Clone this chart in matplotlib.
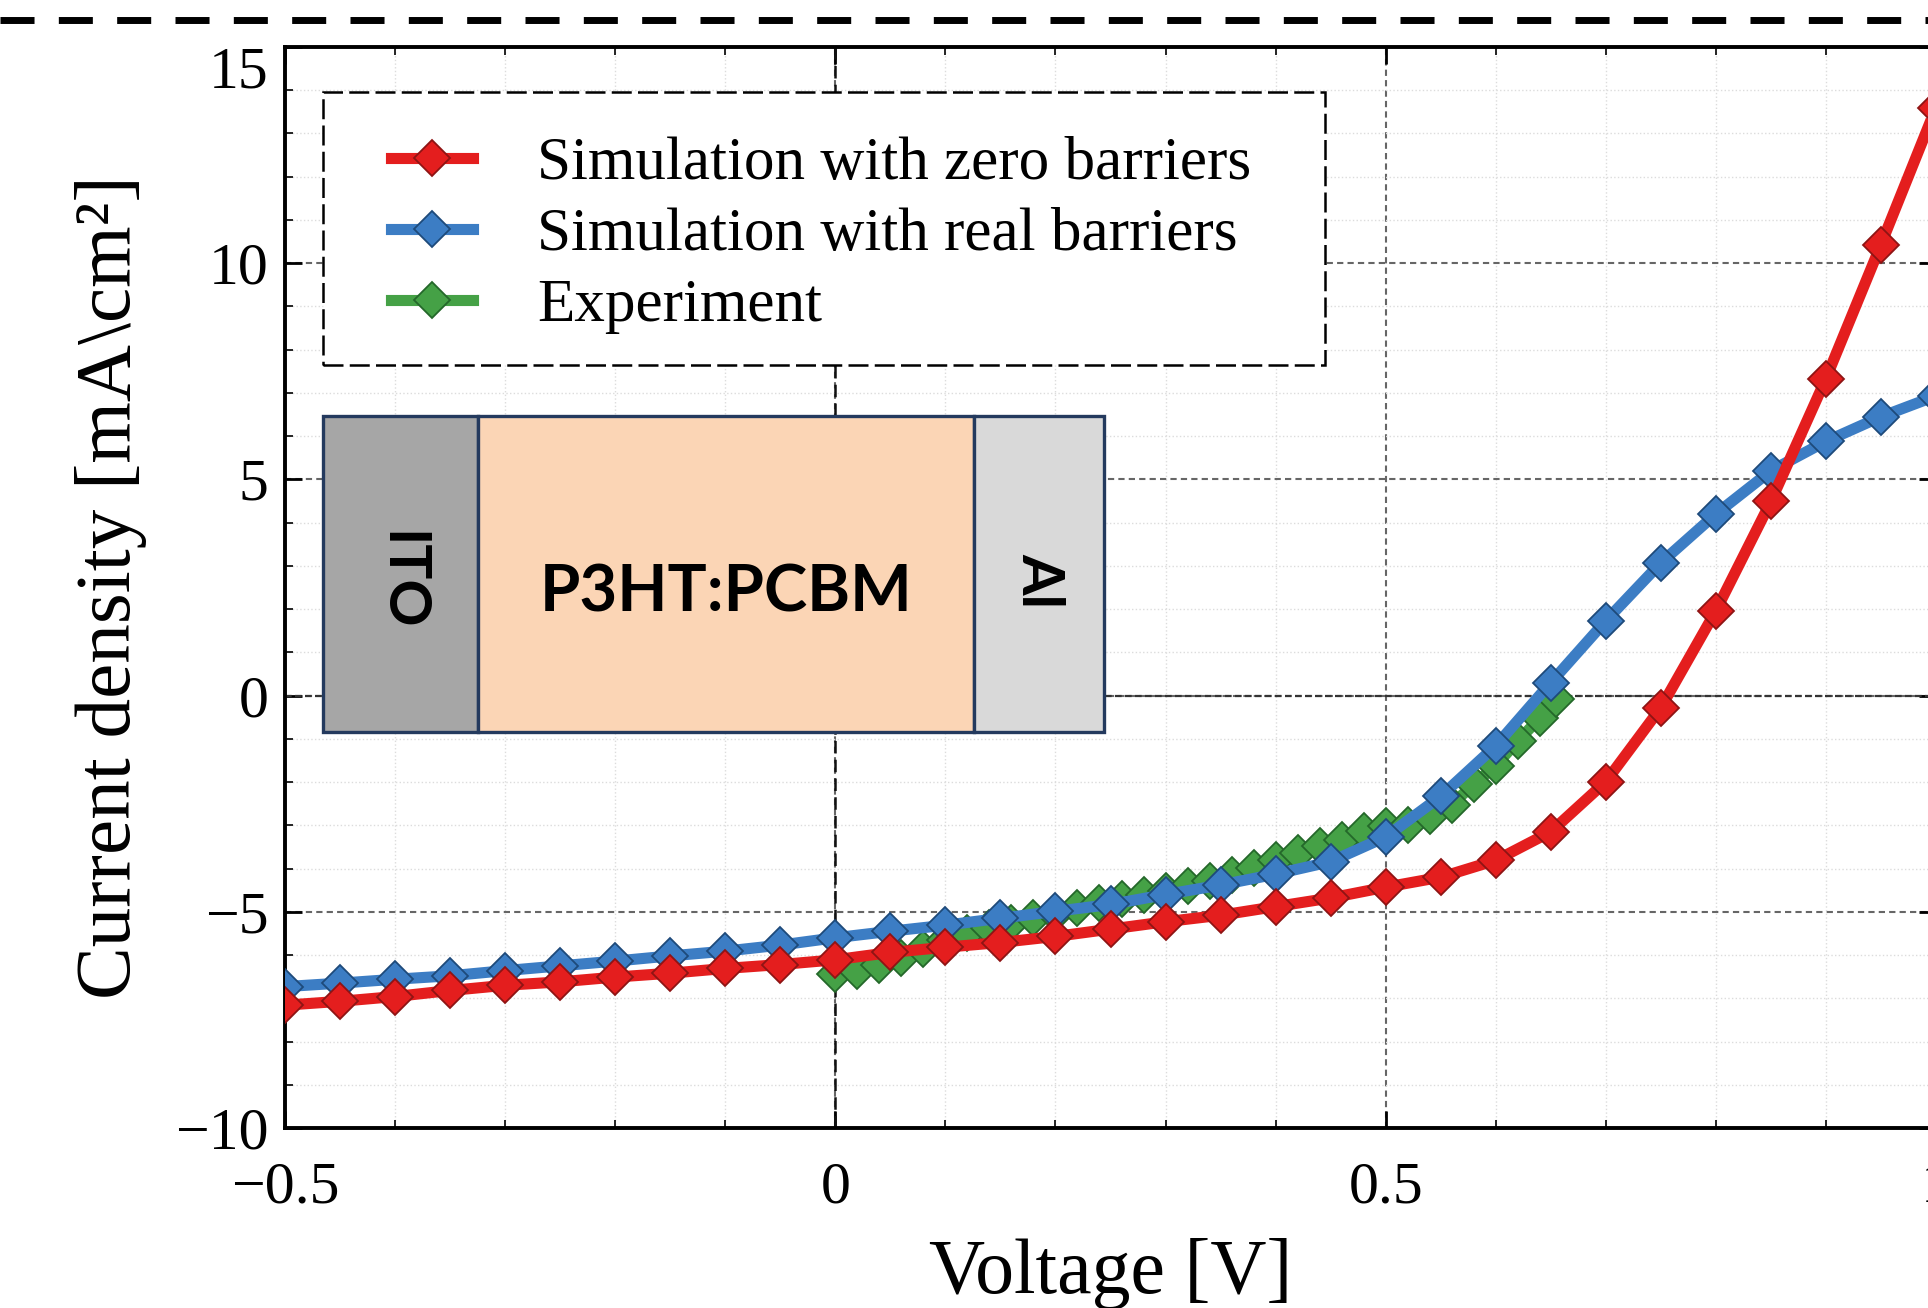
import matplotlib
matplotlib.use('Agg')
import numpy as np
import matplotlib.pyplot as plt
from matplotlib.lines import Line2D
from matplotlib.patches import Rectangle
from matplotlib.ticker import MultipleLocator

# simulated sweeps (50 mV steps)
v_sim = [-0.50, -0.45, -0.40, -0.35, -0.30, -0.25, -0.20, -0.15, -0.10, -0.05,
         0.00, 0.05, 0.10, 0.15, 0.20, 0.25, 0.30, 0.35, 0.40, 0.45,
         0.50, 0.55, 0.60, 0.65, 0.70, 0.75, 0.80, 0.85, 0.90, 0.95, 1.00]
j_zero = [-7.16, -7.07, -6.96, -6.82, -6.70, -6.62, -6.51, -6.42, -6.31, -6.22,
          -6.11, -5.94, -5.82, -5.71, -5.57, -5.40, -5.23, -5.08, -4.88, -4.68,
          -4.43, -4.20, -3.81, -3.15, -1.99, -0.28, 1.96, 4.49, 7.33, 10.43, 13.60]
j_real = [-6.73, -6.65, -6.56, -6.48, -6.36, -6.25, -6.14, -6.02, -5.91, -5.77,
          -5.60, -5.45, -5.31, -5.15, -4.99, -4.83, -4.60, -4.38, -4.13, -3.84,
          -3.27, -2.33, -1.16, 0.30, 1.73, 3.07, 4.20, 5.20, 5.88, 6.45, 6.93]

# measured curve
v_exp = [0.00, 0.02, 0.04, 0.06, 0.08, 0.10, 0.12, 0.14, 0.16, 0.18,
         0.20, 0.22, 0.24, 0.26, 0.28, 0.30, 0.32, 0.34, 0.36, 0.38,
         0.40, 0.42, 0.44, 0.46, 0.48, 0.50, 0.52, 0.54, 0.56, 0.58,
         0.60, 0.62, 0.64, 0.655]
j_exp = [-6.45, -6.37, -6.24, -6.08, -5.85, -5.65, -5.50, -5.38, -5.25, -5.15,
         -5.05, -4.92, -4.80, -4.70, -4.62, -4.52, -4.41, -4.28, -4.14, -3.98,
         -3.80, -3.63, -3.48, -3.33, -3.13, -3.02, -3.00, -2.78, -2.52, -2.05,
         -1.62, -1.05, -0.52, -0.08]

labels = ['Simulation with zero barriers', 'Simulation with real barriers', 'Experiment']

# device stack sketch
layer_names = ['ITO', 'P3HT:PCBM', 'Al']
layer_thickness = [155, 496, 130]
layer_colors = ['#a6a6a6', '#fbd5b5', '#d9d9d9']

plt.rcParams['font.family'] = ['Liberation Serif', 'DejaVu Serif']

styles = {
    'zero': dict(color='#e41e1e', mfc='#e41e1e', mec='#8e1414'),
    'real': dict(color='#3c7dc4', mfc='#3c7dc4', mec='#1e4a7a'),
    'exp': dict(color='#45a146', mfc='#45a146', mec='#24682a'),
}
common = dict(lw=8, marker='D', ms=18, mew=1.3)

fig = plt.figure(figsize=(19.28, 13.08), dpi=100)
ax = fig.add_axes([285 / 1928, 1 - 1128 / 1308, 1651 / 1928, 1081 / 1308])

ax.plot(v_exp, j_exp, zorder=3, **styles['exp'], **common)
ax.plot(v_sim, j_real, zorder=3.1, **styles['real'], **common)
ax.plot(v_sim, j_zero, zorder=3.2, **styles['zero'], **common)

ax.set_xlim(-0.5, 1.0)
ax.set_ylim(-10, 15)
ax.xaxis.set_major_locator(MultipleLocator(0.5))
ax.xaxis.set_minor_locator(MultipleLocator(0.1))
ax.yaxis.set_major_locator(MultipleLocator(5))
ax.yaxis.set_minor_locator(MultipleLocator(1))
ax.set_xticks([-0.5, 0, 0.5, 1.0], ['\u22120.5', '0', '0.5', '1'])
ax.set_yticks([-10, -5, 0, 5, 10, 15], ['\u221210', '\u22125', '0', '5', '10', '15'])

ax.grid(which='minor', color='#dcdcdc', ls=':', lw=1.0)
ax.grid(which='major', color='#666666', ls=(0, (3, 2)), lw=1.5)
ax.axvline(0, color='#111111', lw=1.8, ls=(0, (5, 2.5)), zorder=1.5)
ax.axhline(0, color='#333333', lw=1.6, ls=(0, (3, 1.5)), zorder=1.5)
ax.set_axisbelow(True)

ax.tick_params(which='both', direction='in', top=True, right=True, labelsize=43)
ax.tick_params(which='major', length=12, width=2)
ax.tick_params(which='minor', length=6, width=1.2)
ax.tick_params(axis='x', pad=24)
ax.tick_params(axis='y', pad=12)
for s in ax.spines.values():
    s.set_linewidth(2.8)
ax.get_yticklabels()[-1].set_va('top')

ax.set_xlabel('Voltage [V]', fontsize=56, labelpad=16)
ax.set_ylabel('Current density [mA\\cm\u00b2]', fontsize=57, labelpad=20)

# legend with dashed frame
frame = Rectangle((0.023, 0.706), 0.607, 0.252, transform=ax.transAxes,
                  facecolor='white', edgecolor='black', lw=1.8, ls=(0, (8, 2.5)), zorder=4)
ax.add_patch(frame)
handles = [Line2D([], [], **styles[k], **common) for k in ['zero', 'real', 'exp']]
leg = ax.legend(handles, labels, loc='center left', bbox_to_anchor=(0.0642, 0.826),
                frameon=False, borderpad=0, borderaxespad=0, handlelength=1.34,
                handletextpad=1.05, labelspacing=0.25, fontsize=44)
leg.set_zorder(5)

# inset device sketch
ax_in = fig.add_axes([323 / 1928, 1 - 732 / 1308, 781 / 1928, 316 / 1308])
lefts = np.concatenate([[0], np.cumsum(layer_thickness)[:-1]])
ax_in.barh(0, layer_thickness, left=lefts, height=1, color=layer_colors,
           edgecolor='#243a5e', linewidth=2.4, clip_on=False)
for name, l, w in zip(layer_names, lefts, layer_thickness):
    big = name == 'P3HT:PCBM'
    ax_in.text(l + w / 2, -0.06 if big else -0.02, name, ha='center', va='center',
               rotation=0 if big else 270, rotation_mode='anchor',
               family=['Lato', 'DejaVu Sans'], weight='bold',
               fontsize=47 if big else 42)
ax_in.set_xlim(0, sum(layer_thickness))
ax_in.set_ylim(-0.5, 0.5)
ax_in.axis('off')

# dashed rule along the top edge
fig.add_artist(Line2D([0, 1], [0.985, 0.985], transform=fig.transFigure,
                      color='black', lw=5, ls=(0, (4.9, 3.5))))

fig.savefig('out.png', dpi=100)
